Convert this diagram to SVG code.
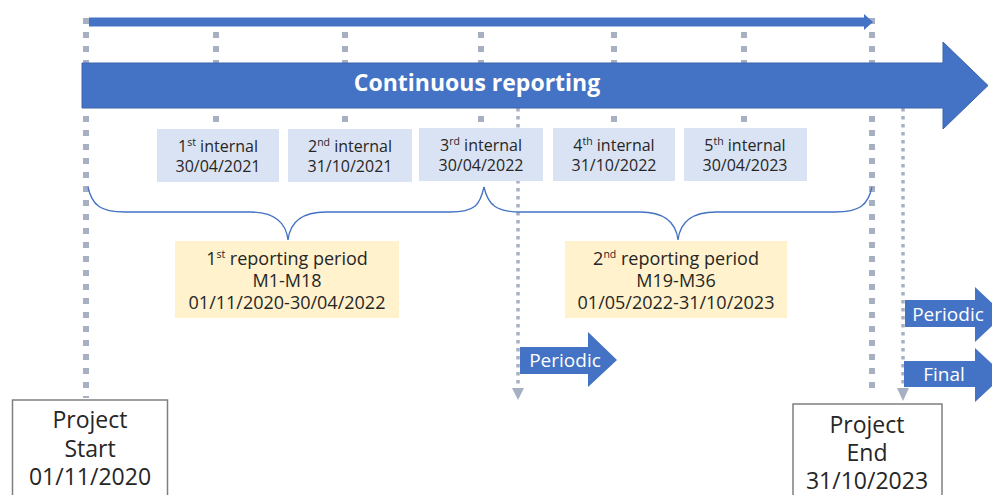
<svg xmlns="http://www.w3.org/2000/svg" width="992" height="495" viewBox="0 0 992 495">
  <defs>
    <style>
      .dots { stroke: #a7b0c2; stroke-width: 6; stroke-dasharray: 6 8; fill: none; }
      .fine { stroke: #a7b0c2; stroke-width: 3.5; stroke-dasharray: 3.5 4.5; fill: none; }
      .tip { fill: #a7b0c2; }
      .blue { fill: #4472c4; stroke: #3b64ae; stroke-width: 1; }
      .internal { fill: #dae3f3; }
      .period { fill: #fff2cc; }
      .brace { fill: none; stroke: #4472c4; stroke-width: 1.3; }
      .milestone { fill: #ffffff; stroke: #7f7f7f; stroke-width: 1.5; }
      text { font-family: "Open Sans", "Noto Sans", "Liberation Sans", sans-serif; text-anchor: middle; fill: #262626; }
      .t16 { font-size: 16px; }
      .t18 { font-size: 18px; }
      .t22 { font-size: 23px; }
      .white { fill: #ffffff; }
      .sup { font-size: 10.5px; }
    </style>
  </defs>

  <!-- timeline guides -->
  <g id="connectors">
    <line class="dots" x1="86" y1="18" x2="86" y2="398"/>
    <line class="dots" x1="216" y1="32" x2="216" y2="128"/>
    <line class="dots" x1="345" y1="32" x2="345" y2="128"/>
    <line class="dots" x1="481" y1="32" x2="481" y2="128"/>
    <line class="dots" x1="614" y1="32" x2="614" y2="128"/>
    <line class="dots" x1="744" y1="32" x2="744" y2="128"/>
    <line class="dots" x1="872" y1="18" x2="872" y2="396"/>
    <line class="fine" x1="518" y1="108" x2="518" y2="389"/>
    <polygon class="tip" points="512,388 524,388 518,400"/>
    <line class="fine" x1="903" y1="108" x2="903" y2="389"/>
    <polygon class="tip" points="897,388 909,388 903,401"/>
    <!-- braces -->
    <path class="brace" d="M88,187 C92,205 100,212 125,212 L250,212 C275,212 286,222 288,240 C290,222 301,212 326,212 L450,212 C475,212 480,205 484,187"/>
    <path class="brace" d="M484,187 C488,205 496,212 521,212 L640,212 C665,212 676,222 678,240 C680,222 691,212 716,212 L835,212 C860,212 868,205 872,187"/>
  </g>

  <!-- thin project-duration arrow -->
  <g id="duration">
    <polygon fill="#4472c4" points="89,17.5 864,17.5 864,14 873,22 864,30 864,26.5 89,26.5"/>
  </g>

  <!-- continuous reporting arrow -->
  <g id="continuous">
    <polygon class="blue" points="82,63 943,63 943,42 988,85.5 943,129 943,108 82,108"/>
    <text x="477" y="91" class="white" font-size="23" font-weight="bold">Continuous reporting</text>
  </g>

  <!-- internal reports -->
  <g id="internal1">
    <rect class="internal" x="157" y="129" width="122" height="53"/>
    <text class="t16" x="218" y="152">1<tspan class="sup" dy="-6">st</tspan><tspan dy="6"> internal</tspan></text>
    <text class="t16" x="218" y="172">30/04/2021</text>
  </g>
  <g id="internal2">
    <rect class="internal" x="288" y="129" width="124" height="53"/>
    <text class="t16" x="350" y="152">2<tspan class="sup" dy="-6">nd</tspan><tspan dy="6"> internal</tspan></text>
    <text class="t16" x="350" y="172">31/10/2021</text>
  </g>
  <g id="internal3">
    <rect class="internal" x="419" y="128" width="124" height="53"/>
    <text class="t16" x="481" y="151">3<tspan class="sup" dy="-6">rd</tspan><tspan dy="6"> internal</tspan></text>
    <text class="t16" x="481" y="171">30/04/2022</text>
  </g>
  <g id="internal4">
    <rect class="internal" x="553" y="128" width="122" height="53"/>
    <text class="t16" x="614" y="151">4<tspan class="sup" dy="-6">th</tspan><tspan dy="6"> internal</tspan></text>
    <text class="t16" x="614" y="171">31/10/2022</text>
  </g>
  <g id="internal5">
    <rect class="internal" x="684" y="128" width="123" height="53"/>
    <text class="t16" x="745" y="151">5<tspan class="sup" dy="-6">th</tspan><tspan dy="6"> internal</tspan></text>
    <text class="t16" x="745" y="171">30/04/2023</text>
  </g>

  <!-- reporting periods -->
  <g id="period1">
    <rect class="period" x="175" y="241" width="224" height="77"/>
    <text class="t18" x="287" y="265">1<tspan class="sup" font-size="11.5" dy="-7">st</tspan><tspan dy="7"> reporting period</tspan></text>
    <text class="t18" x="287" y="287">M1-M18</text>
    <text class="t18" x="287" y="309">01/11/2020-30/04/2022</text>
  </g>
  <g id="period2">
    <rect class="period" x="565" y="241" width="222" height="77"/>
    <text class="t18" x="676" y="265">2<tspan class="sup" font-size="11.5" dy="-7">nd</tspan><tspan dy="7"> reporting period</tspan></text>
    <text class="t18" x="676" y="287">M19-M36</text>
    <text class="t18" x="676" y="309">01/05/2022-31/10/2023</text>
  </g>

  <!-- periodic / final report arrows -->
  <g id="periodic1">
    <polygon fill="#4472c4" points="520,347 588,347 588,332 617,360 588,387 588,374 520,374"/>
    <text class="white" x="565" y="367" font-size="19">Periodic</text>
  </g>
  <g id="periodic2">
    <polygon fill="#4472c4" points="905,300 975,300 975,287 1004,314.5 975,342 975,327 905,327"/>
    <text class="white" x="948" y="321" font-size="19">Periodic</text>
  </g>
  <g id="final">
    <polygon fill="#4472c4" points="904,361 975,361 975,348 1004,375 975,402 975,387 904,387"/>
    <text class="white" x="944" y="381" font-size="19">Final</text>
  </g>

  <!-- milestones -->
  <g id="project-start">
    <rect class="milestone" x="12.5" y="400" width="155" height="110"/>
    <text class="t22" x="90" y="428">Project</text>
    <text class="t22" x="90" y="457">Start</text>
    <text class="t22" x="90" y="485">01/11/2020</text>
  </g>
  <g id="project-end">
    <rect class="milestone" x="793" y="404" width="149" height="110"/>
    <text class="t22" x="867" y="433">Project</text>
    <text class="t22" x="867" y="461">End</text>
    <text class="t22" x="867" y="489">31/10/2023</text>
  </g>
</svg>
